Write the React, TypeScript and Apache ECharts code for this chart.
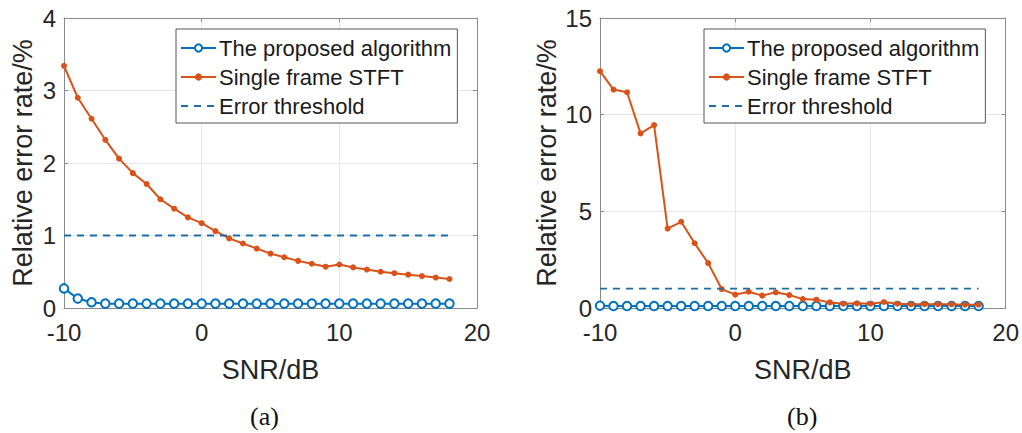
import React, { useEffect, useRef } from "react";
import * as echarts from "echarts";

const snr = [-10, -9, -8, -7, -6, -5, -4, -3, -2, -1, 0, 1, 2, 3, 4, 5, 6, 7, 8, 9, 10, 11, 12, 13, 14, 15, 16, 17, 18];

const proposedA = [0.27, 0.13, 0.08, 0.06, 0.06, 0.06, 0.06, 0.06, 0.06, 0.06, 0.06, 0.06, 0.06, 0.06, 0.06, 0.06, 0.06, 0.06, 0.06, 0.06, 0.06, 0.06, 0.06, 0.06, 0.06, 0.06, 0.06, 0.06, 0.06];
const stftA = [3.34, 2.9, 2.61, 2.32, 2.06, 1.86, 1.71, 1.5, 1.37, 1.25, 1.17, 1.06, 0.96, 0.89, 0.82, 0.75, 0.7, 0.65, 0.61, 0.57, 0.6, 0.56, 0.53, 0.5, 0.48, 0.46, 0.44, 0.42, 0.4];

const proposedB = [0.12, 0.1, 0.1, 0.1, 0.1, 0.1, 0.1, 0.1, 0.1, 0.1, 0.1, 0.1, 0.1, 0.1, 0.1, 0.1, 0.1, 0.1, 0.1, 0.1, 0.1, 0.1, 0.1, 0.1, 0.1, 0.1, 0.1, 0.1, 0.1];
const stftB = [12.25, 11.3, 11.16, 9.03, 9.46, 4.11, 4.46, 3.35, 2.32, 0.98, 0.69, 0.84, 0.64, 0.81, 0.67, 0.46, 0.43, 0.29, 0.22, 0.24, 0.22, 0.31, 0.22, 0.19, 0.2, 0.19, 0.19, 0.17, 0.17];

const thresholdValue = 1;
const thresholdRange = [-10, 18];

const seriesNames = ["The proposed algorithm", "Single frame STFT", "Error threshold"];
const panelLabels = ["(a)", "(b)"];
const xAxisTitle = "SNR/dB";
const yAxisTitle = "Relative error rate/%";

const BLUE = "#0072BD";
const ORANGE = "#D95319";
const DASH = "#1b6fa3";
const TEXT = "#262626";
const FRAME = "#8a8a8a";
const GRIDLINE = "#e6e6e6";
const SANS = "Liberation Sans, Arial, sans-serif";

const pairs = (xs: number[], ys: number[]) => xs.map((x, i) => [x, ys[i]]);

export default function App() {
  const ref = useRef<HTMLDivElement>(null);

  useEffect(() => {
    if (!ref.current) return;
    const chart = echarts.init(ref.current, null, { renderer: "svg" });

    const grids = [
      { left: 64, top: 18, width: 413, height: 290 },
      { left: 600, top: 18, width: 408, height: 290 },
    ];
    const yRanges = [
      { max: 4, interval: 1 },
      { max: 15, interval: 5 },
    ];

    const xAxes: any[] = [];
    const yAxes: any[] = [];
    grids.forEach((_, g) => {
      xAxes.push({
        type: "value",
        gridIndex: g,
        min: -10,
        max: 20,
        interval: 10,
        name: xAxisTitle,
        nameLocation: "middle",
        nameGap: 48,
        nameTextStyle: { fontFamily: SANS, fontSize: 27, color: TEXT },
        axisLine: { show: true, onZero: false, lineStyle: { color: FRAME, width: 1 } },
        axisTick: { show: true, inside: true, length: 4, lineStyle: { color: FRAME } },
        axisLabel: { margin: 12, fontFamily: SANS, fontSize: 24, color: TEXT },
        splitLine: { show: true, lineStyle: { color: GRIDLINE, width: 1 } },
      });
      xAxes.push({
        type: "value",
        gridIndex: g,
        position: "top",
        min: -10,
        max: 20,
        interval: 10,
        axisLine: { show: true, onZero: false, lineStyle: { color: FRAME, width: 1 } },
        axisTick: { show: true, inside: true, length: 4, lineStyle: { color: FRAME } },
        axisLabel: { show: false },
        splitLine: { show: false },
      });
      yAxes.push({
        type: "value",
        gridIndex: g,
        min: 0,
        max: yRanges[g].max,
        interval: yRanges[g].interval,
        name: yAxisTitle,
        nameLocation: "middle",
        nameGap: g === 0 ? 28 : 40,
        nameTextStyle: { fontFamily: SANS, fontSize: 27, color: TEXT },
        axisLine: { show: true, onZero: false, lineStyle: { color: FRAME, width: 1 } },
        axisTick: { show: true, inside: true, length: 4, lineStyle: { color: FRAME } },
        axisLabel: { margin: 8, fontFamily: SANS, fontSize: 24, color: TEXT },
        splitLine: { show: true, lineStyle: { color: GRIDLINE, width: 1 } },
      });
      yAxes.push({
        type: "value",
        gridIndex: g,
        position: "right",
        min: 0,
        max: yRanges[g].max,
        interval: yRanges[g].interval,
        axisLine: { show: true, onZero: false, lineStyle: { color: FRAME, width: 1 } },
        axisTick: { show: true, inside: true, length: 4, lineStyle: { color: FRAME } },
        axisLabel: { show: false },
        splitLine: { show: false },
      });
    });

    const data = [
      { proposed: proposedA, stft: stftA },
      { proposed: proposedB, stft: stftB },
    ];

    const series: any[] = [];
    data.forEach((d, g) => {
      const xi = g * 2;
      const yi = g * 2;
      series.push({
        type: "line",
        name: seriesNames[0],
        xAxisIndex: xi,
        yAxisIndex: yi,
        data: pairs(snr, d.proposed),
        symbol: "emptyCircle",
        symbolSize: 8.5,
        color: BLUE,
        lineStyle: { color: BLUE, width: 2 },
        itemStyle: { color: BLUE, borderColor: BLUE, borderWidth: 1.8 },
        z: 2,
      });
      series.push({
        type: "line",
        name: seriesNames[1],
        xAxisIndex: xi,
        yAxisIndex: yi,
        data: pairs(snr, d.stft),
        symbol: "circle",
        symbolSize: 6,
        color: ORANGE,
        lineStyle: { color: ORANGE, width: 2 },
        itemStyle: { color: ORANGE },
        z: 3,
      });
      series.push({
        type: "line",
        name: seriesNames[2],
        xAxisIndex: xi,
        yAxisIndex: yi,
        data: thresholdRange.map((x) => [x, thresholdValue]),
        symbol: "none",
        color: DASH,
        lineStyle: { color: DASH, width: 1.8, type: [7, 6] },
        z: 4,
      });
    });

    const legendBase = {
      orient: "vertical",
      top: 29,
      padding: [8, 6, 6, 4],
      itemWidth: 35,
      itemHeight: 9,
      itemGap: 7,
      backgroundColor: "#ffffff",
      borderColor: "#555555",
      borderWidth: 1,
      borderRadius: 0,
      z: 10,
      textStyle: { fontFamily: SANS, fontSize: 22, color: "#1a1a1a", padding: [0, 0, 0, -2] },
      data: [
        seriesNames[0],
        seriesNames[1],
        { name: seriesNames[2], itemStyle: { color: "rgba(0,0,0,0)", borderColor: "rgba(0,0,0,0)", opacity: 0 } },
      ],
      selectedMode: false,
    };

    chart.setOption({
      animation: false,
      backgroundColor: "#ffffff",
      grid: grids.map((g) => ({ ...g, show: false, containLabel: false })),
      xAxis: xAxes,
      yAxis: yAxes,
      legend: [
        { ...legendBase, left: 176 },
        { ...legendBase, left: 704 },
      ],
      series,
      graphic: [
        {
          type: "text",
          left: 250,
          top: 403,
          style: { text: panelLabels[0], fontFamily: "Liberation Serif, Times New Roman, serif", fontSize: 26, fill: "#111111" },
        },
        {
          type: "text",
          left: 787,
          top: 403,
          style: { text: panelLabels[1], fontFamily: "Liberation Serif, Times New Roman, serif", fontSize: 26, fill: "#111111" },
        },
      ],
    });

    return () => chart.dispose();
  }, []);

  return (
    <div
      ref={ref}
      style={{ position: "fixed", left: 0, top: 0, width: 1022, height: 433, background: "#fff" }}
    />
  );
}
